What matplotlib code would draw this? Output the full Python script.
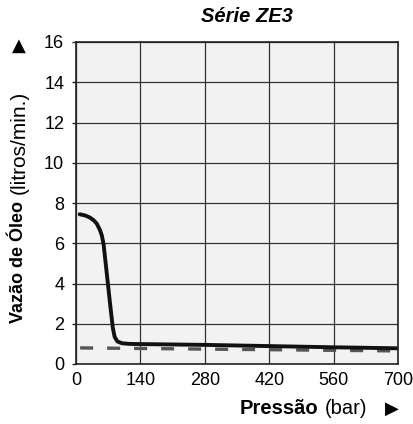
import matplotlib.pyplot as plt

plt.rcParams['font.family'] = ['Liberation Sans', 'DejaVu Sans']

# pressure (bar) vs oil flow (l/min)
pressao = [8, 20, 30, 38, 45, 52, 56, 60, 65, 70, 75, 80, 84, 90, 100, 115, 140, 280, 420, 560, 700]
vazao = [7.44, 7.38, 7.28, 7.15, 6.98, 6.66, 6.4, 5.95, 4.9, 3.85, 2.8, 1.8, 1.35, 1.12, 1.03, 1.0, 0.99, 0.95, 0.89, 0.83, 0.78]

# reference (dashed) line
pressao_ref = [9, 700]
vazao_ref = [0.8, 0.65]

x_ticks = [0, 140, 280, 420, 560, 700]
y_ticks = [0, 2, 4, 6, 8, 10, 12, 14, 16]

fig = plt.figure(figsize=(4.14, 4.24), dpi=100)
W, H = 414, 424
ax = fig.add_axes([76 / W, 1 - 364 / H, (398 - 76) / W, (364 - 42) / H])
ax.set_facecolor('#f2f2f2')

ax.plot(pressao_ref, vazao_ref, color='#555555', lw=2.4, ls=(0, (3.9, 4.2)))
ax.plot(pressao, vazao, color='#111111', lw=2.8, solid_joinstyle='round', solid_capstyle='round')

ax.set_xlim(0, 700)
ax.set_ylim(0, 16)
ax.set_xticks(x_ticks)
ax.set_yticks(y_ticks)
ax.grid(True, color='#333333', lw=0.9)
ax.set_axisbelow(True)
for s in ax.spines.values():
    s.set_color('#222222')
    s.set_linewidth(1.2)
ax.tick_params(axis='y', length=3, width=1, color='#222222', labelsize=13, pad=5.5)
ax.tick_params(axis='x', length=0, labelsize=13, pad=5.5)

fig.text(247 / W, 1 - 17 / H, 'Série ZE3', fontsize=14.5, fontweight='bold', fontstyle='italic',
         ha='center', va='center')

# x axis label pieces
fig.text(240 / W, 1 - 409 / H, 'Pressão', fontsize=14.5, fontweight='bold', va='center', ha='left')
fig.text(325 / W, 1 - 409 / H, '(bar)', fontsize=14.5, va='center', ha='left')
fig.text(391.5 / W, 1 - 409 / H, '▶', fontsize=13, va='center', ha='center', family=['DejaVu Sans'])

# y axis label pieces
fig.text(19 / W, 1 - 323 / H, 'Vazão de Óleo', fontsize=13, fontweight='bold', rotation=90, va='bottom', ha='center')
fig.text(19 / W, 1 - 194 / H, '(litros/min.)', fontsize=15, rotation=90, va='bottom', ha='center')
fig.text(19 / W, 1 - 46 / H, '▲', fontsize=13, va='center', ha='center', family=['DejaVu Sans'])

fig.savefig('out.png', dpi=100)
